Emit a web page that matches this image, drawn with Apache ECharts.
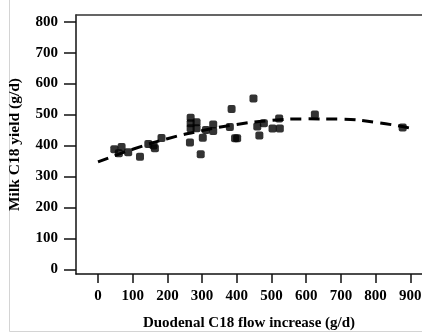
<!DOCTYPE html>
<html>
<head>
<meta charset="utf-8">
<script src="https://cdn.jsdelivr.net/npm/echarts@6/dist/echarts.min.js"></script>
<style>html,body{margin:0;padding:0;background:#fff}#c{width:422px;height:333px}</style>
</head>
<body>
<div id="c"></div>
<script>
var flowIncrease = [47, 68, 60, 87, 121, 145, 164, 160, 183, 267, 267, 267, 265, 284, 284, 302, 296, 311, 332, 332, 385, 380, 401, 395, 448, 459, 465, 478, 503, 524, 522, 625, 878];
var milkYield    = [388, 395, 375, 378, 364, 405, 391, 400, 424, 490, 472, 456, 410, 475, 456, 425, 372, 450, 468, 447, 518, 460, 423, 423, 552, 461, 432, 472, 455, 455, 487, 500, 458];
// Fitted trend line
var trendX = [0, 50, 100, 200, 300, 400, 500, 600, 700, 800, 900];
var trendY = [347, 368, 388, 422, 448, 468, 481, 486, 485, 475, 456];
// Tick labels
var xTicks = [0, 100, 200, 300, 400, 500, 600, 700, 800, 900];
var yTicks = [0, 100, 200, 300, 400, 500, 600, 700, 800];

var font = 'Liberation Serif';
var chart = echarts.init(document.getElementById('c'));
var pts = flowIncrease.map(function (x, i) { return [x, milkYield[i]]; });
var line = trendX.map(function (x, i) { return [x, trendY[i]]; });

chart.setOption({
  animation: false,
  backgroundColor: '#fff',
  grid: { left: 76, right: 0, top: 15, bottom: 59, containLabel: false, outerBoundsMode: 'none' },
  xAxis: [{
    type: 'value', min: -63.4, max: 933.7,
    name: 'Duodenal C18 flow increase (g/d)', nameLocation: 'middle', nameGap: 42,
    nameTextStyle: { fontFamily: font, fontWeight: 'bold', fontSize: 15, color: '#000' },
    axisLine: { show: true, onZero: false, lineStyle: { color: '#111', width: 1.5 } },
    axisTick: { show: true, inside: false, length: 9, customValues: xTicks, lineStyle: { color: '#111', width: 1.5 } },
    axisLabel: { customValues: xTicks, margin: 15, fontFamily: font, fontWeight: 'bold', fontSize: 15, color: '#000' },
    splitLine: { show: false }
  }, {
    type: 'value', position: 'top', min: -63.4, max: 933.7,
    axisLine: { show: true, onZero: false, lineStyle: { color: '#333', width: 1.5 } },
    axisTick: { show: false }, axisLabel: { show: false }, splitLine: { show: false }
  }],
  yAxis: {
    type: 'value', min: -15.2, max: 821.6,
    name: 'Milk C18 yield (g/d)', nameLocation: 'middle', nameGap: 53,
    nameTextStyle: { fontFamily: font, fontWeight: 'bold', fontSize: 15.5, color: '#000' },
    axisLine: { show: true, onZero: false, lineStyle: { color: '#111', width: 1.5 } },
    axisTick: { show: true, inside: false, length: 12, customValues: yTicks, lineStyle: { color: '#111', width: 1.5 } },
    axisLabel: { customValues: yTicks, margin: 18, fontFamily: font, fontWeight: 'bold', fontSize: 15, color: '#000' },
    splitLine: { show: false }
  },
  graphic: [
    { type: 'line', shape: { x1: 9.5, y1: 0, x2: 9.5, y2: 331.5 }, style: { stroke: '#d4d4d4', lineWidth: 1 } },
    { type: 'line', shape: { x1: 9.5, y1: 331.5, x2: 422, y2: 331.5 }, style: { stroke: '#d4d4d4', lineWidth: 1 } }
  ],
  series: [{
    type: 'scatter', data: pts, symbol: 'roundRect', symbolSize: 8,
    itemStyle: { color: '#000' }, z: 3
  }, {
    type: 'line', data: line, smooth: true, showSymbol: false, symbol: 'none',
    lineStyle: { color: '#000', width: 3, type: [11, 7] }, z: 2
  }]
});
</script>
</body>
</html>
